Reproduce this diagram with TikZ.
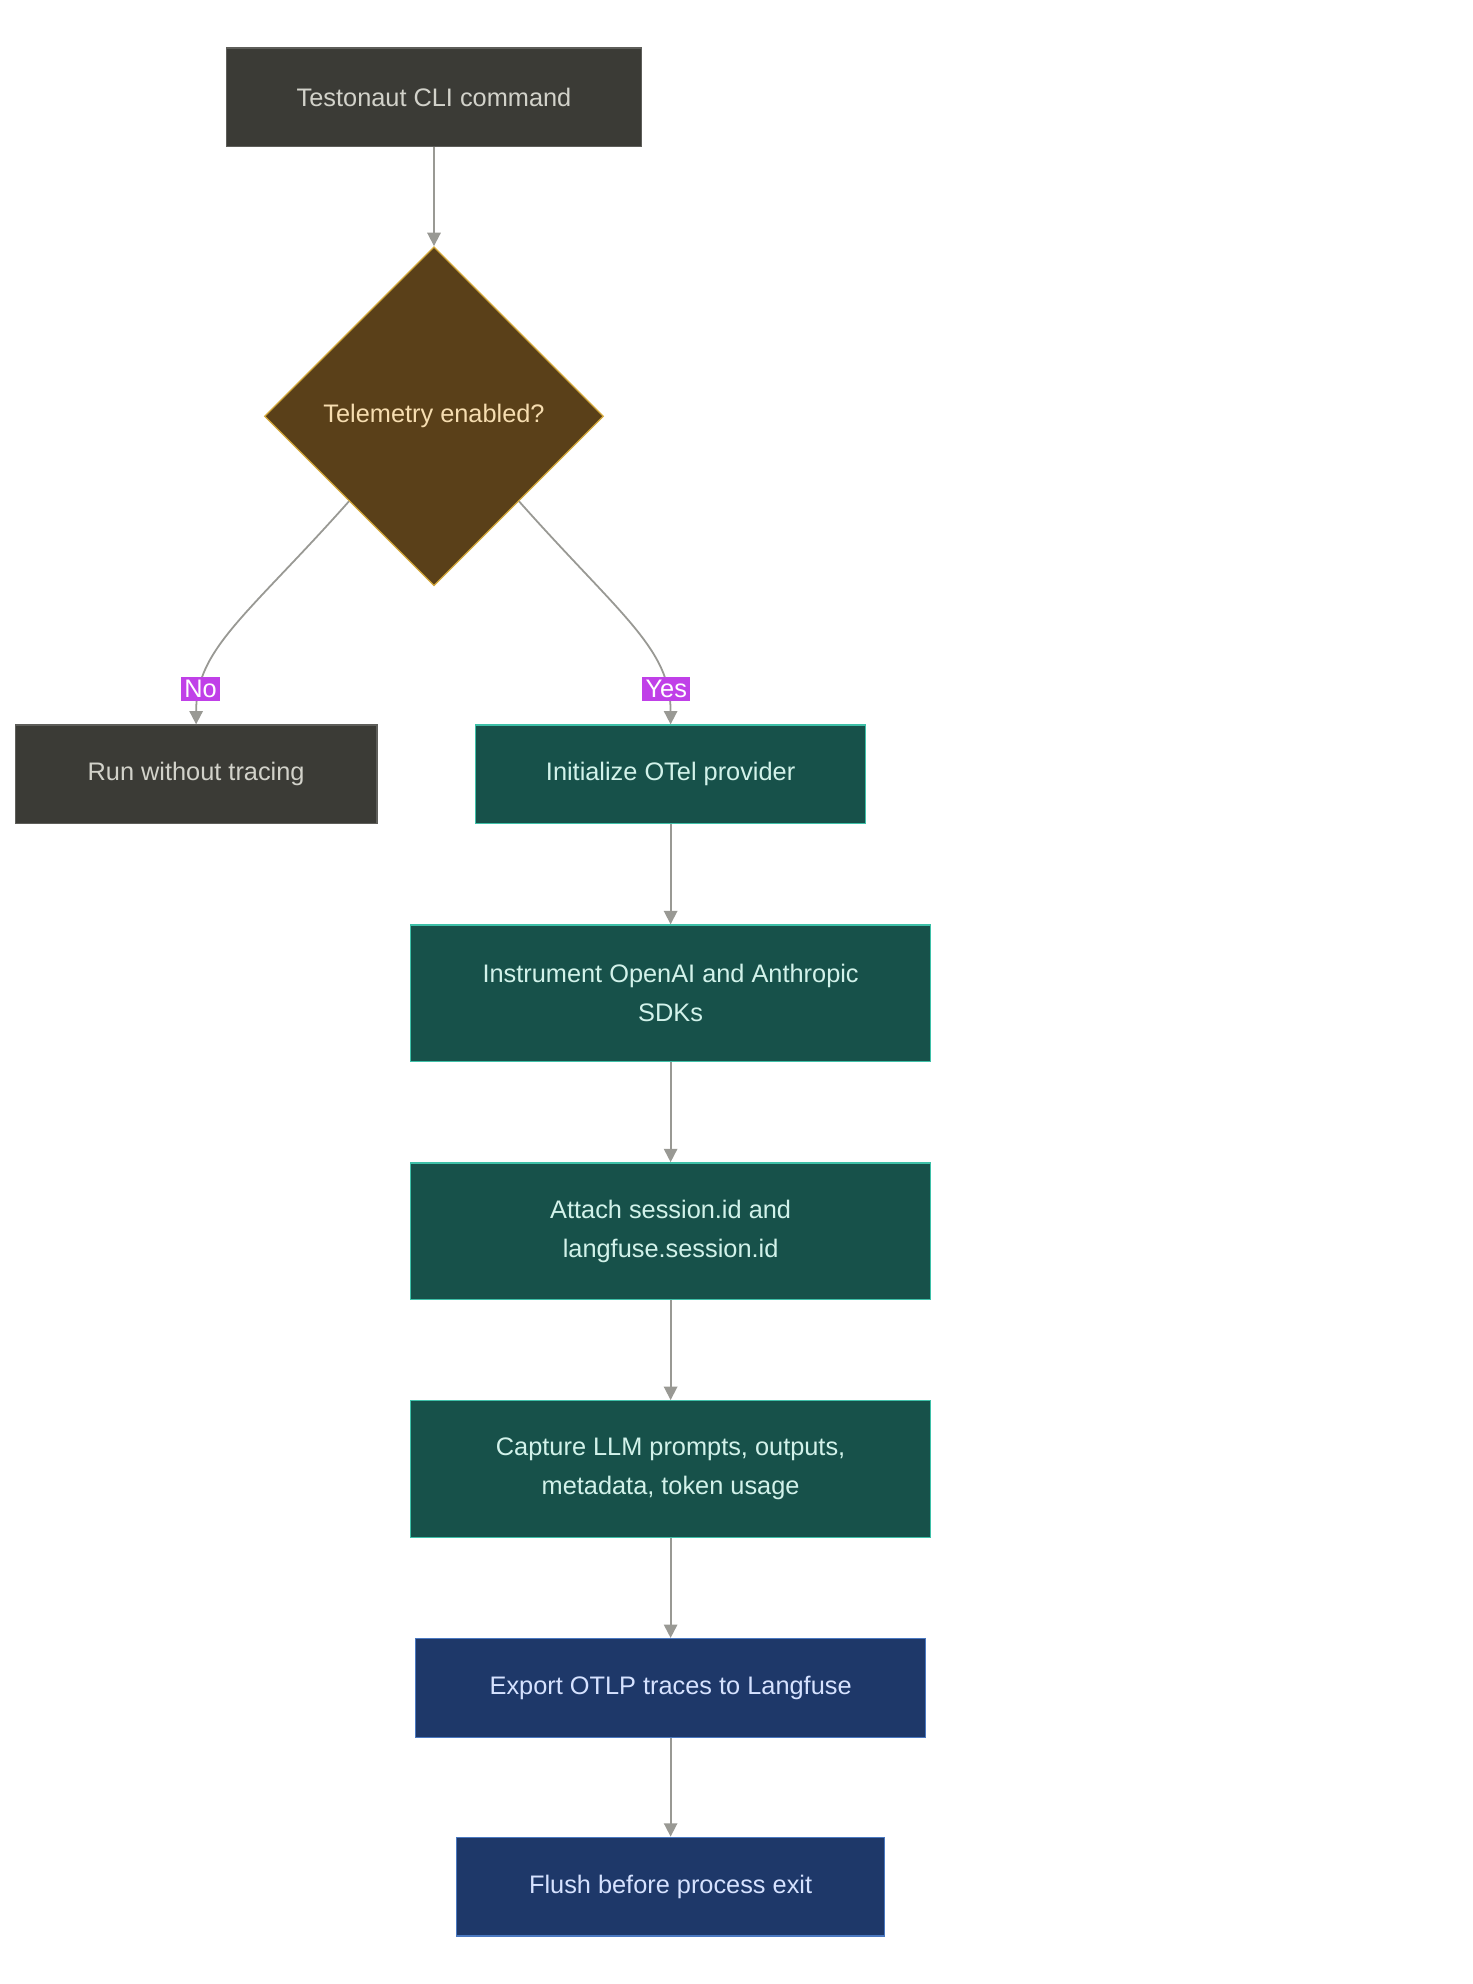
\documentclass[tikz,border=0pt]{standalone}
\usepackage{fontspec}
\setmainfont{Liberation Sans}
\usetikzlibrary{shapes.geometric,arrows.meta}
\definecolor{greyfill}{HTML}{3B3B36}
\definecolor{greyline}{HTML}{5E5E5A}
\definecolor{greytext}{HTML}{D2D2CA}
\definecolor{diafill}{HTML}{5A4019}
\definecolor{dialine}{HTML}{D4A83A}
\definecolor{diatext}{HTML}{F6DDB0}
\definecolor{tealfill}{HTML}{17514A}
\definecolor{tealline}{HTML}{3EC0A8}
\definecolor{tealtext}{HTML}{D2F2EA}
\definecolor{bluefill}{HTML}{1E3869}
\definecolor{blueline}{HTML}{4A78C0}
\definecolor{bluetext}{HTML}{D6E2FF}
\definecolor{lblfill}{HTML}{C040E8}
\definecolor{arrline}{HTML}{999994}
\tikzset{
  box/.style={rectangle, draw, line width=0.6pt, inner sep=0pt, align=center,
    font=\fontsize{11.4}{17.5}\selectfont},
  plain/.style={box, fill=greyfill, draw=greyline, text=greytext},
  teal/.style={box, fill=tealfill, draw=tealline, text=tealtext},
  navy/.style={box, fill=bluefill, draw=blueline, text=bluetext},
  arr/.style={draw=arrline, line width=0.8pt, -{Triangle[length=6pt,width=6pt]}},
  lbl/.style={fill=lblfill, text=white, inner sep=1.5pt, font=\fontsize{11.4}{13}\selectfont}
}
\begin{document}
\begin{tikzpicture}[x=0.02cm, y=-0.02cm]
    \useasboundingbox[fill=white] (0,0) rectangle (1164,1568);

    \node[plain, minimum width=6.56cm, minimum height=1.56cm] (cli) at (343,77) {Testonaut CLI command};

    \node[diamond, draw=dialine, fill=diafill, text=diatext, line width=0.6pt, inner sep=0pt,
          minimum width=5.36cm, minimum height=5.36cm, font=\fontsize{11.4}{13}\selectfont] (tele) at (343,329) {Telemetry enabled?};

    \node[plain, minimum width=5.72cm, minimum height=1.56cm] (run) at (155,612) {Run without tracing};

    \node[teal, minimum width=6.16cm, minimum height=1.56cm] (otel) at (530,612) {Initialize OTel provider};

    \node[teal, minimum width=8.22cm, minimum height=2.16cm] (sdk) at (530,785) {Instrument OpenAI and Anthropic\\SDKs};

    \node[teal, minimum width=8.22cm, minimum height=2.16cm] (sess) at (530,973) {Attach session.id and\\langfuse.session.id};

    \node[teal, minimum width=8.22cm, minimum height=2.16cm] (cap) at (530,1161) {Capture LLM prompts, outputs,\\metadata, token usage};

    \node[navy, minimum width=8.06cm, minimum height=1.56cm] (exp) at (530,1334) {Export OTLP traces to Langfuse};

    \node[navy, minimum width=6.76cm, minimum height=1.56cm] (flush) at (530,1491) {Flush before process exit};


    \draw[arr] (cli) -- (tele);

    \draw[arr] (tele.south west) .. controls +(-80,90) and +(0,-60) .. (run.north) node[lbl, pos=0.83] {No};

    \draw[arr] (tele.south east) .. controls +(80,90) and +(0,-60) .. (otel.north) node[lbl, pos=0.83] {Yes};

    \draw[arr] (otel) -- (sdk);

    \draw[arr] (sdk) -- (sess);

    \draw[arr] (sess) -- (cap);

    \draw[arr] (cap) -- (exp);

    \draw[arr] (exp) -- (flush);

\end{tikzpicture}
\end{document}
